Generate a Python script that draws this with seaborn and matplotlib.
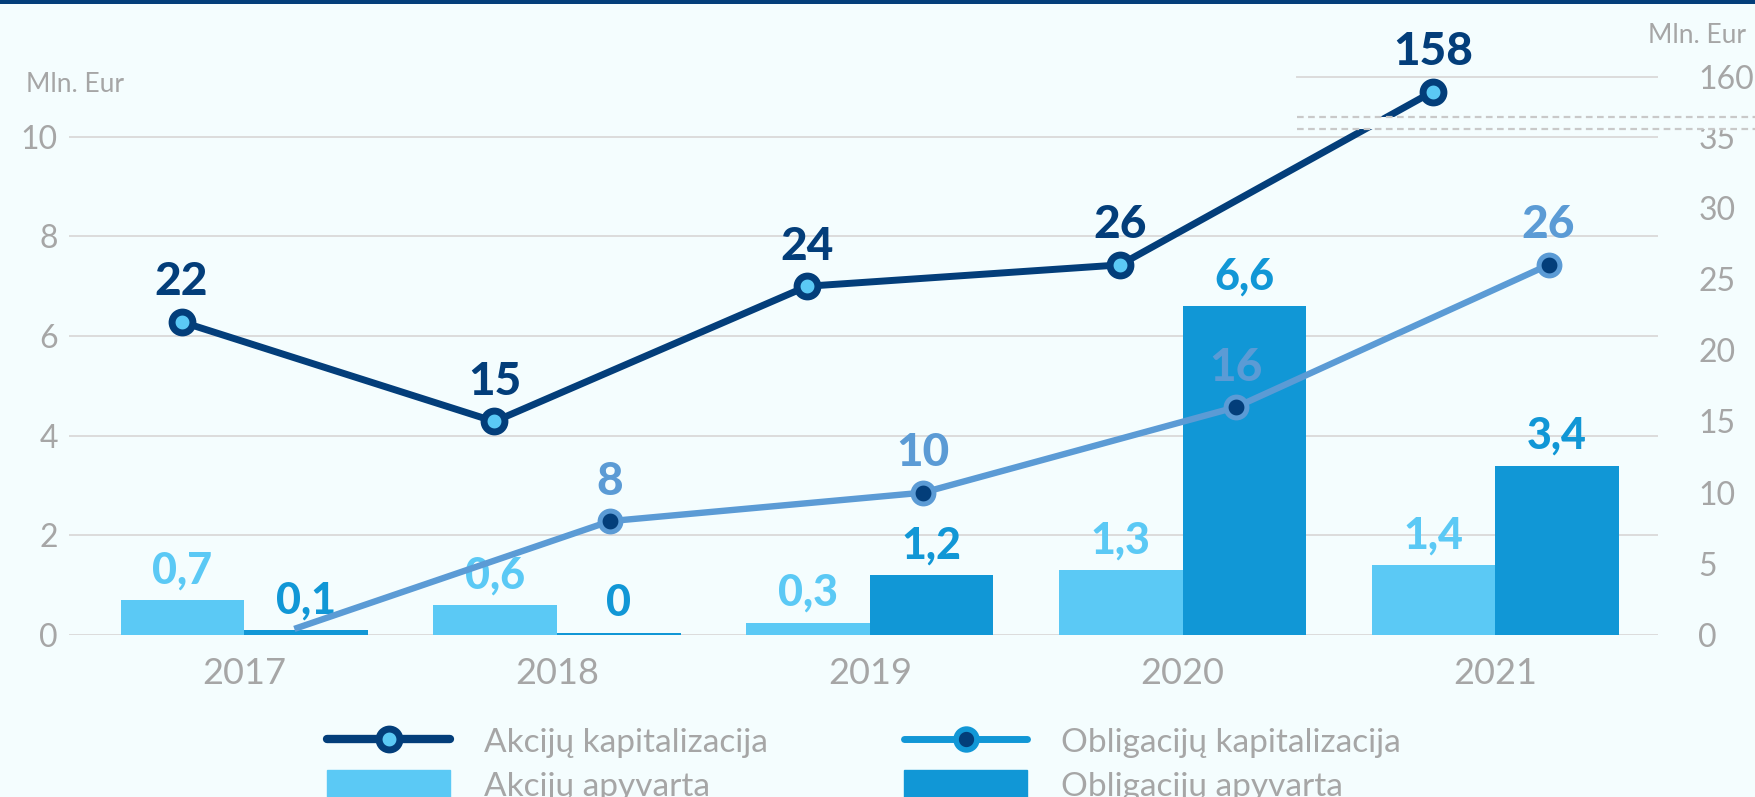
import numpy as np
import pandas as pd
import matplotlib
matplotlib.use("Agg")
import matplotlib.pyplot as plt
import matplotlib.transforms as mtransforms
from matplotlib.lines import Line2D
from matplotlib.patches import Patch, Rectangle
import seaborn as sns

# data
years = ["2017", "2018", "2019", "2020", "2021"]
akc_apyvarta = [0.7, 0.6, 0.25, 1.3, 1.4]
obl_apyvarta = [0.1, 0.04, 1.2, 6.6, 3.4]
akc_apyvarta_lbl = ["0,7", "0,6", "0,3", "1,3", "1,4"]
obl_apyvarta_lbl = ["0,1", "0", "1,2", "6,6", "3,4"]
akc_kap = [22, 15, 24.5, 26, 158]
obl_kap = [0.5, 8, 10, 16, 26]
akc_kap_lbl = ["22", "15", "24", "26", "158"]
obl_kap_lbl = ["", "8", "10", "16", "26"]

# colours
bg = "#F4FDFE"
light = "#5BC9F5"
dark = "#1197D6"
navy = "#033E7A"
bond = "#5B9BD5"
grid_c = "#DCDCDC"
grey = "#A6A6A6"

plt.rcParams["font.family"] = ["Lato", "DejaVu Sans"]
plt.rcParams["font.weight"] = "normal"

# broken right axis: 0..35 linear, squeezed gap, then top part near 160
LO, HI, GAP, TOP_K = 35.0, 156.0, 2.17, 0.5


def fwd(v):
    v = np.asarray(v, dtype=float)
    return np.where(v <= LO, v,
                    np.where(v <= HI, LO + (v - LO) * GAP / (HI - LO),
                             LO + GAP + (v - HI) * TOP_K))


def inv(u):
    u = np.asarray(u, dtype=float)
    return np.where(u <= LO, u,
                    np.where(u <= LO + GAP, LO + (u - LO) * (HI - LO) / GAP,
                             HI + (u - LO - GAP) / TOP_K))


W, H = 1756, 797
fig = plt.figure(figsize=(W / 100, H / 100), dpi=100, facecolor=bg)
ax_l, ax_r, ax_b, ax_t = 69, 1658, 635, 72
ax = fig.add_axes([ax_l / W, 1 - ax_b / H, (ax_r - ax_l) / W, (ax_b - ax_t) / H])
ax.set_facecolor(bg)
YTOP = 11.3

df_bars = pd.DataFrame({
    "year": years * 2,
    "value": akc_apyvarta + obl_apyvarta,
    "series": ["Akcijų apyvarta"] * len(years) + ["Obligacijų apyvarta"] * len(years),
})
sns.barplot(data=df_bars, x="year", y="value", hue="series", palette=[light, dark],
            saturation=1, width=0.79, errorbar=None, legend=False, ax=ax)

ax.set_xlim(-0.56, 4.52)
ax.set_ylim(0, YTOP)
ax.set_yticks(range(0, 11, 2))
ax.yaxis.grid(True, color=grid_c, lw=1.4)
ax.xaxis.grid(False)
ax.set_axisbelow(True)
ax.set_xlabel("")
ax.set_ylabel("")
ax.tick_params(axis="y", length=0, pad=8, labelsize=23, labelcolor=grey)
ax.tick_params(axis="x", length=0, pad=16, labelsize=26, labelcolor=grey)
for s in ax.spines.values():
    s.set_visible(False)

ax.bar_label(ax.containers[0], labels=akc_apyvarta_lbl, padding=7, color=light,
             fontsize=31, fontweight="black")
ax.bar_label(ax.containers[1], labels=obl_apyvarta_lbl, padding=7, color=dark,
             fontsize=31, fontweight="black")

# right axis with the break
ax2 = ax.twinx()
ax2.set_yscale("function", functions=(fwd, inv))
ax2.set_ylim(0, float(inv(YTOP * 3.5)))
ax2.set_yticks(list(range(0, 36, 5)) + [160])
ax2.tick_params(axis="y", length=0, pad=29, labelsize=23, labelcolor=grey)
ax2.grid(False)
for s in ax2.spines.values():
    s.set_visible(False)
ax2.axhline(160, xmin=(1297 - ax_l) / (ax_r - ax_l), color=grid_c, lw=1.4, zorder=0)

xpos = np.arange(len(years))
sns.lineplot(x=xpos - 0.2, y=akc_kap, ax=ax2, color=navy, lw=5, marker="o",
             ms=15, markerfacecolor=light, mec=navy, mew=5, legend=False, zorder=4)
sns.lineplot(x=xpos + 0.17, y=obl_kap, ax=ax2, color=bond, lw=4.6, marker="o",
             ms=15, markerfacecolor=navy, mec=bond, mew=3.6, markevery=[1, 2, 3, 4],
             legend=False, zorder=3)

for x, v, t in zip(xpos - 0.2, akc_kap, akc_kap_lbl):
    ax2.annotate(t, (x, v), xytext=(0, 19), textcoords="offset points", ha="center",
                 va="baseline", fontsize=33, fontweight="black", color=navy, zorder=6)
for x, v, t in zip(xpos + 0.17, obl_kap, obl_kap_lbl):
    ax2.annotate(t, (x, v), xytext=(0, 19), textcoords="offset points", ha="center",
                 va="baseline", fontsize=33, fontweight="black", color=bond, zorder=6)

# break marks over the line
brk = mtransforms.blended_transform_factory(fig.transFigure, ax.transData)
fig.add_artist(Rectangle((1297 / W, 10.15), 1 - 1297 / W, 0.24, transform=brk,
                         color=bg, lw=0, zorder=5))
for yb in (10.15, 10.39):
    fig.add_artist(Line2D([1297 / W, 1], [yb, yb], transform=brk, color="#C9C9C9",
                          lw=1.6, ls=(0, (3, 2)), zorder=6))

# top border and unit labels
fig.add_artist(Rectangle((0, 1 - 3.5 / H), 1, 3.5 / H, transform=fig.transFigure,
                         color=navy, lw=0))
fig.text(26 / W, 1 - 92 / H, "Mln. Eur", ha="left", va="baseline", fontsize=19, color=grey)
fig.text(1648 / W, 1 - 43 / H, "Mln. Eur", ha="left", va="baseline", fontsize=19, color=grey)

# legend, two fixed columns
h_akc = Line2D([], [], color=navy, lw=6, marker="o", ms=15, markerfacecolor=light,
               markeredgecolor=navy, markeredgewidth=5, solid_capstyle="round")
h_obl = Line2D([], [], color=dark, lw=5, marker="o", ms=15, markerfacecolor=navy,
               markeredgecolor=dark, markeredgewidth=4, solid_capstyle="round")
leg_kw = dict(loc="upper left", frameon=False, handlelength=3.7, handleheight=1.0,
              handletextpad=1.0, labelspacing=0.35, borderpad=0, borderaxespad=0,
              labelcolor=grey, prop={"size": 24, "weight": "normal"})
leg1 = fig.legend([h_akc, Patch(color=light)], ["Akcijų kapitalizacija", "Akcijų apyvarta"],
                  bbox_to_anchor=(327 / W, 1 - 726 / H), **leg_kw)
leg2 = fig.legend([h_obl, Patch(color=dark)], ["Obligacijų kapitalizacija", "Obligacijų apyvarta"],
                  bbox_to_anchor=(904 / W, 1 - 726 / H), **leg_kw)

fig.savefig("out.png", dpi=100, facecolor=bg)
